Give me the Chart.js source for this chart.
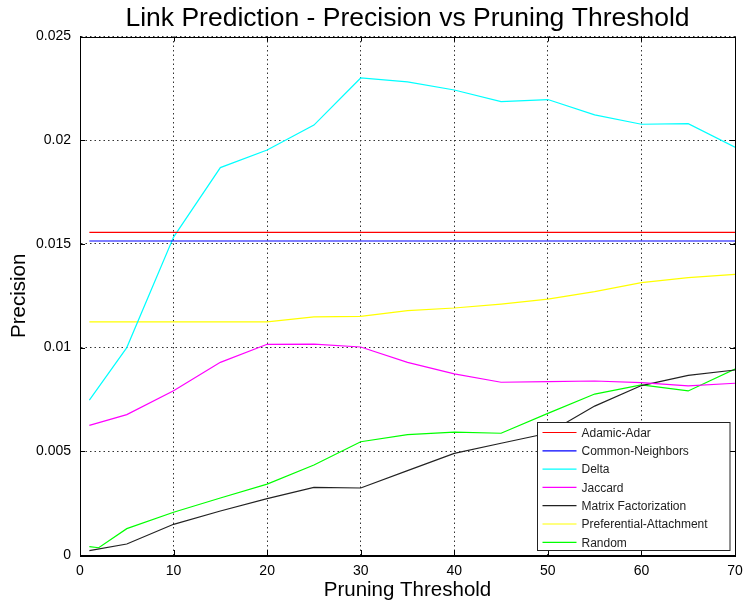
<!DOCTYPE html>
<html>
<head>
<meta charset="utf-8">
<script src="https://cdn.jsdelivr.net/npm/chart.js@4.4.1/dist/chart.umd.min.js"></script>
<style>
  html, body { margin: 0; padding: 0; background: #fff; }
  #wrap { width: 743px; height: 610px; }
</style>
</head>
<body>
<div id="wrap"><canvas id="chart" width="743" height="610"></canvas></div>
<script>
// ═══ DATA ═══
const thresholds = [1, 5, 10, 15, 20, 25, 30, 35, 40, 45, 50, 55, 60, 65, 70];
const randomThresholds = [1, 2, 5, 10, 15, 20, 25, 30, 35, 40, 45, 50, 55, 60, 65, 70];

const adamicAdar = [0.01556, 0.01556, 0.01556, 0.01556, 0.01556, 0.01556, 0.01556, 0.01556, 0.01556, 0.01556, 0.01556, 0.01556, 0.01556, 0.01556, 0.01556];
const commonNeighbors = [0.01514, 0.01514, 0.01514, 0.01514, 0.01514, 0.01514, 0.01514, 0.01514, 0.01514, 0.01514, 0.01514, 0.01514, 0.01514, 0.01514, 0.01514];
const delta = [0.00747, 0.0100, 0.01533, 0.01868, 0.01953, 0.02073, 0.0230, 0.02281, 0.02242, 0.02186, 0.02196, 0.02122, 0.02077, 0.0208, 0.01966];
const jaccard = [0.00625, 0.00677, 0.00792, 0.00929, 0.01016, 0.01017, 0.01003, 0.00929, 0.00873, 0.00833, 0.00836, 0.00839, 0.00831, 0.00815, 0.00828];
const matrixFact = [0.00021, 0.00053, 0.00148, 0.00212, 0.00272, 0.00326, 0.00323, 0.00407, 0.0049, 0.00539, 0.00587, 0.00718, 0.00817, 0.00866, 0.00892];
const prefAttach = [0.01124, 0.01124, 0.01124, 0.01124, 0.01124, 0.01148, 0.01151, 0.01178, 0.01191, 0.0121, 0.01234, 0.0127, 0.01313, 0.01337, 0.01353];
const random = [0.0004, 0.00035, 0.00127, 0.00206, 0.00275, 0.00342, 0.00434, 0.00546, 0.0058, 0.00592, 0.00587, 0.00683, 0.00776, 0.0082, 0.00791, 0.00897];

const xTicks = [0, 10, 20, 30, 40, 50, 60, 70];
const yTicks = [0, 0.005, 0.01, 0.015, 0.02, 0.025];

const FONT = "'Liberation Sans', Arial, sans-serif";
const GRID = '#333';

function pts(xs, ys) { return ys.map((y, i) => ({ x: xs[i], y })); }

function series(label, xs, ys, color) {
  return { label, data: pts(xs, ys), borderColor: color, backgroundColor: color,
           borderWidth: 1.2, pointRadius: 0, tension: 0, fill: false };
}

// ═══ FRAME + INNER TICKS + LEGEND ═══
const framePlugin = {
  id: 'frame',
  afterDatasetsDraw(chart) {
    const { ctx, chartArea: a, scales: { x, y } } = chart;
    ctx.save();
    ctx.strokeStyle = '#000';
    ctx.lineWidth = 1;
    ctx.setLineDash([]);
    ctx.beginPath();
    xTicks.forEach(v => {
      const px = Math.round(x.getPixelForValue(v)) + 0.5;
      ctx.moveTo(px, a.bottom); ctx.lineTo(px, a.bottom - 5);
      ctx.moveTo(px, a.top); ctx.lineTo(px, a.top + 5);
    });
    yTicks.forEach(v => {
      const py = Math.round(y.getPixelForValue(v)) + 0.5;
      ctx.moveTo(a.left, py); ctx.lineTo(a.left + 5, py);
      ctx.moveTo(a.right, py); ctx.lineTo(a.right - 5, py);
    });
    ctx.stroke();
    ctx.strokeRect(Math.round(a.left) + 0.5, Math.round(a.top) + 0.5,
                   Math.round(a.right - a.left), Math.round(a.bottom - a.top));

    // legend box, bottom right inside the axes
    const sets = chart.data.datasets;
    const rowH = 18.3;
    const bx = 537.5, by = 422.5, bw = 192.5, bh = 128;
    ctx.fillStyle = '#fff';
    ctx.fillRect(bx, by, bw, bh);
    ctx.strokeStyle = '#222';
    ctx.strokeRect(bx, by, bw, bh);
    ctx.font = '12px ' + FONT;
    ctx.textBaseline = 'middle';
    ctx.textAlign = 'left';
    sets.forEach((ds, i) => {
      const ly = by + 10 + i * rowH;
      ctx.strokeStyle = ds.borderColor;
      ctx.lineWidth = 1.2;
      ctx.beginPath();
      ctx.moveTo(bx + 5, ly); ctx.lineTo(bx + 39, ly);
      ctx.stroke();
      ctx.fillStyle = '#222';
      ctx.fillText(ds.label, bx + 44, ly + 1);
    });
    ctx.restore();
  }
};

new Chart(document.getElementById('chart'), {
  type: 'line',
  data: {
    datasets: [
      series('Adamic-Adar', thresholds, adamicAdar, '#ff0000'),
      series('Common-Neighbors', thresholds, commonNeighbors, '#0000ff'),
      series('Delta', thresholds, delta, '#00ffff'),
      series('Jaccard', thresholds, jaccard, '#ff00ff'),
      series('Matrix Factorization', thresholds, matrixFact, '#222222'),
      series('Preferential-Attachment', thresholds, prefAttach, '#ffff00'),
      series('Random', randomThresholds, random, '#00ff00')
    ]
  },
  options: {
    responsive: false,
    animation: false,
    layout: { padding: { top: 0, right: 1, bottom: 0, left: 0 } },
    plugins: {
      legend: { display: false },
      tooltip: { enabled: false },
      title: {
        display: true,
        fullSize: false,
        text: 'Link Prediction - Precision vs Pruning Threshold',
        color: '#000',
        font: { family: FONT, size: 26.5, weight: 'normal', lineHeight: 1.2 },
        padding: { top: 3, bottom: 1.7 }
      }
    },
    scales: {
      x: {
        type: 'linear',
        min: 0, max: 70,
        afterBuildTicks: s => { s.ticks = xTicks.map(v => ({ value: v })); },
        afterFit: s => { s.height = 55; s.paddingLeft = 0; s.paddingRight = 8; },
        ticks: { color: '#000', padding: 8, maxRotation: 0, font: { family: FONT, size: 14 } },
        grid: { color: GRID, lineWidth: 1, drawTicks: false },
        border: { display: true, color: '#000', dash: [1.5, 3] },
        title: {
          display: true, text: 'Pruning Threshold', color: '#000',
          font: { family: FONT, size: 20.5 }, padding: { top: 0, bottom: 7 }
        }
      },
      y: {
        min: 0, max: 0.025,
        afterBuildTicks: s => { s.ticks = yTicks.map(v => ({ value: v })); },
        afterFit: s => { s.width = 80; },
        ticks: {
          color: '#000', padding: 9, font: { family: FONT, size: 14 },
          callback: v => String(parseFloat(v.toFixed(3)))
        },
        grid: { color: GRID, lineWidth: 1, drawTicks: false },
        border: { display: true, color: '#000', dash: [1.5, 3] },
        title: {
          display: true, text: 'Precision', color: '#000',
          font: { family: FONT, size: 20.5 }, padding: { top: 7, bottom: 0 }
        }
      }
    }
  },
  plugins: [framePlugin]
});
</script>
</body>
</html>
